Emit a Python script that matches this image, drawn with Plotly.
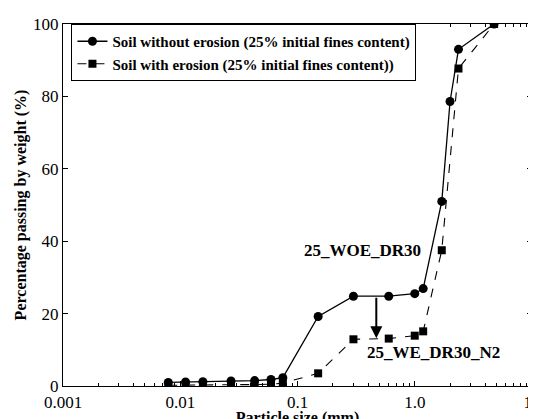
import math
import plotly.graph_objects as go

# Data
size_woe = [0.0079, 0.0111, 0.0156, 0.0271, 0.0431, 0.0594, 0.075, 0.15, 0.3, 0.6, 1.0, 1.18, 1.7, 2.0, 2.36, 4.75]
pass_woe = [1.0, 1.1, 1.2, 1.4, 1.5, 1.8, 2.3, 19.2, 24.8, 24.8, 25.5, 26.9, 51.0, 78.6, 93.0, 100.0]
size_we = [0.0079, 0.0111, 0.0156, 0.0271, 0.0431, 0.0594, 0.075, 0.15, 0.3, 0.6, 1.0, 1.18, 1.7, 2.36, 4.75]
pass_we = [0.2, 0.2, 0.3, 0.3, 0.4, 0.5, 0.8, 3.5, 12.9, 13.1, 13.9, 15.1, 37.5, 87.7, 100.0]
x_ticks = [0.001, 0.01, 0.1, 1, 10]
x_ticktext = ["0.001", "0.01", "0.1", "1.0", "10"]
x_minor = [m * d for d in [0.001, 0.01, 0.1, 1] for m in range(2, 10)]
y_ticks = [0, 20, 40, 60, 80, 100]

FONT = "Liberation Serif"

fig = go.Figure()
fig.add_trace(go.Scatter(
    x=size_woe, y=pass_woe, mode="lines+markers",
    name="<b>Soil without erosion (25% initial fines content)</b>",
    line=dict(color="black", width=1.3),
    marker=dict(symbol="circle", size=9, color="black"),
))
fig.add_trace(go.Scatter(
    x=size_we, y=pass_we, mode="lines+markers",
    name="<b>Soil with erosion (25% initial fines content))</b>",
    line=dict(color="black", width=1.1, dash="dash"),
    marker=dict(symbol="square", size=8, color="black"),
))

ax_x = math.log10(0.47)
fig.add_annotation(x=ax_x, y=13.2, ax=ax_x, ay=24.8, xref="x", yref="y", axref="x", ayref="y",
                   showarrow=True, arrowhead=2, arrowsize=1.2, arrowwidth=2, arrowcolor="black", text="")
fig.add_annotation(x=math.log10(0.36), y=37.5, xref="x", yref="y", text="<b>25_WOE_DR30</b>", showarrow=False,
                   font=dict(family=FONT, size=17, color="black"))
fig.add_annotation(x=math.log10(1.45), y=9.3, xref="x", yref="y", text="<b>25_WE_DR30_N2</b>", showarrow=False,
                   font=dict(family=FONT, size=17, color="black"))

fig.update_layout(
    template="none",
    width=536, height=419,
    margin=dict(l=55, r=12, t=16, b=41),
    paper_bgcolor="white", plot_bgcolor="white",
    font=dict(family=FONT, size=15, color="black"),
    showlegend=True,
    legend=dict(x=0.018, y=1.0, xanchor="left", yanchor="top",
                bgcolor="white", bordercolor="black", borderwidth=1,
                font=dict(family=FONT, size=15, color="black"), tracegroupgap=0),
    xaxis=dict(type="log", range=[-3, 1], tickmode="array", tickvals=x_ticks, ticktext=x_ticktext,
               ticks="inside", ticklen=5, tickwidth=1, tickcolor="black",
               showline=True, linecolor="black", linewidth=1.3, mirror="ticks",
               showgrid=False, zeroline=False,
               tickfont=dict(family=FONT, size=17, color="black"),
               minor=dict(tickmode="array", tickvals=x_minor, ticks="inside", ticklen=3,
                          tickcolor="black", showgrid=False),
               title=dict(text="<b>Particle size (mm)</b>", standoff=4,
                          font=dict(family=FONT, size=16, color="black"))),
    yaxis=dict(range=[0, 100], tickvals=y_ticks,
               ticks="inside", ticklen=5, tickwidth=1, tickcolor="black",
               showline=True, linecolor="black", linewidth=1.3, mirror="ticks",
               showgrid=False, zeroline=False,
               tickfont=dict(family=FONT, size=17, color="black"),
               title=dict(text="<b>Percentage passing by weight (%)</b>", standoff=2,
                          font=dict(family=FONT, size=16, color="black"))),
)
fig.write_html("out.html")
